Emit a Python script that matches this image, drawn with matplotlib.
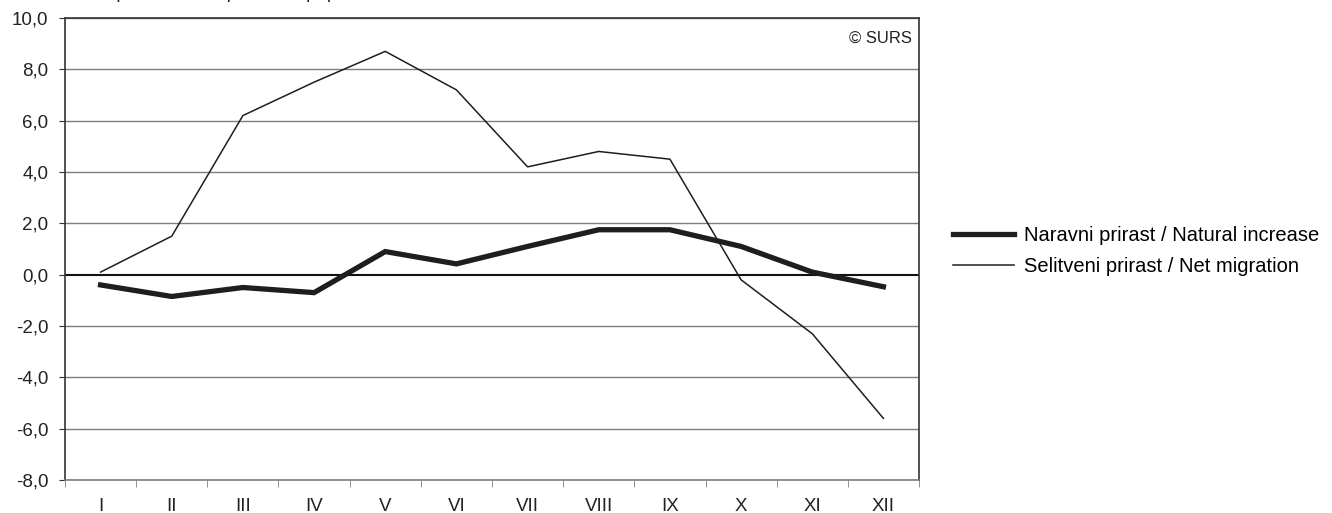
import matplotlib
matplotlib.use('Agg')
from matplotlib import pyplot as plt
import numpy as np

plt.rcParams['font.family'] = ['Liberation Sans', 'DejaVu Sans']

months = ['I', 'II', 'III', 'IV', 'V', 'VI', 'VII', 'VIII', 'IX', 'X', 'XI', 'XII']
natural = [-0.4, -0.85, -0.5, -0.7, 0.9, 0.42, 1.1, 1.75, 1.75, 1.1, 0.1, -0.47]
migration = [0.1, 1.5, 6.2, 7.5, 8.7, 7.2, 4.2, 4.8, 4.5, -0.2, -2.3, -5.6]
yticks = [-8, -6, -4, -2, 0, 2, 4, 6, 8, 10]
label_nat = 'Naravni prirast / Natural increase'
label_mig = 'Selitveni prirast / Net migration'

fig = plt.figure(figsize=(13.32, 5.13), dpi=100)
ax = fig.add_axes([65 / 1332, 33 / 513, 854 / 1332, 462 / 513])

x = np.arange(len(months))
for y in yticks:
    if y == 0:
        ax.axhline(0, color='#111111', lw=1.5, zorder=1)
    else:
        ax.axhline(y, color='#7a7f84', lw=1.0, zorder=1)

ax.plot(x, natural, color='#1c1f20', lw=3.8, solid_joinstyle='miter', label=label_nat, zorder=3)
ax.plot(x, migration, color='#1c1f20', lw=1.1, label=label_mig, zorder=3)

ax.set_xlim(-0.5, len(months) - 0.5)
ax.set_ylim(-8, 10)
ax.set_yticks(yticks)
ax.set_yticklabels([f'{v:.1f}'.replace('.', ',') for v in yticks], fontsize=13.5, color='#222222')
ax.set_xticks(x)
ax.set_xticklabels(months, fontsize=13.5, color='#222222')
ax.set_xticks(np.arange(len(months) + 1) - 0.5, minor=True)
ax.tick_params(axis='x', which='major', length=0, pad=13)
ax.tick_params(axis='x', which='minor', length=5, color='#7a7f84', direction='out')
ax.tick_params(axis='y', length=4, color='#333333', pad=8)

for side in ['left', 'right', 'top']:
    ax.spines[side].set_color('#333333')
    ax.spines[side].set_linewidth(1.2)
ax.spines['bottom'].set_color('#7a7f84')
ax.spines['bottom'].set_linewidth(1.2)

ax.text(0.992, 0.955, '\u00a9 SURS', transform=ax.transAxes, ha='right', va='center',
        fontsize=12, color='#222222')

fig.text(40 / 1332, 1 + 2 / 513, 'Na 1000 prebivalcev / per 1000 population',
         fontsize=13.5, color='#222222', va='baseline', ha='left')

ax.legend(loc='center left', bbox_to_anchor=(935 / 1332, 262 / 513), bbox_transform=fig.transFigure,
          frameon=False, fontsize=14.5, handlelength=3.0, handletextpad=0.5, labelspacing=0.62)

fig.savefig('out.png', dpi=100)
